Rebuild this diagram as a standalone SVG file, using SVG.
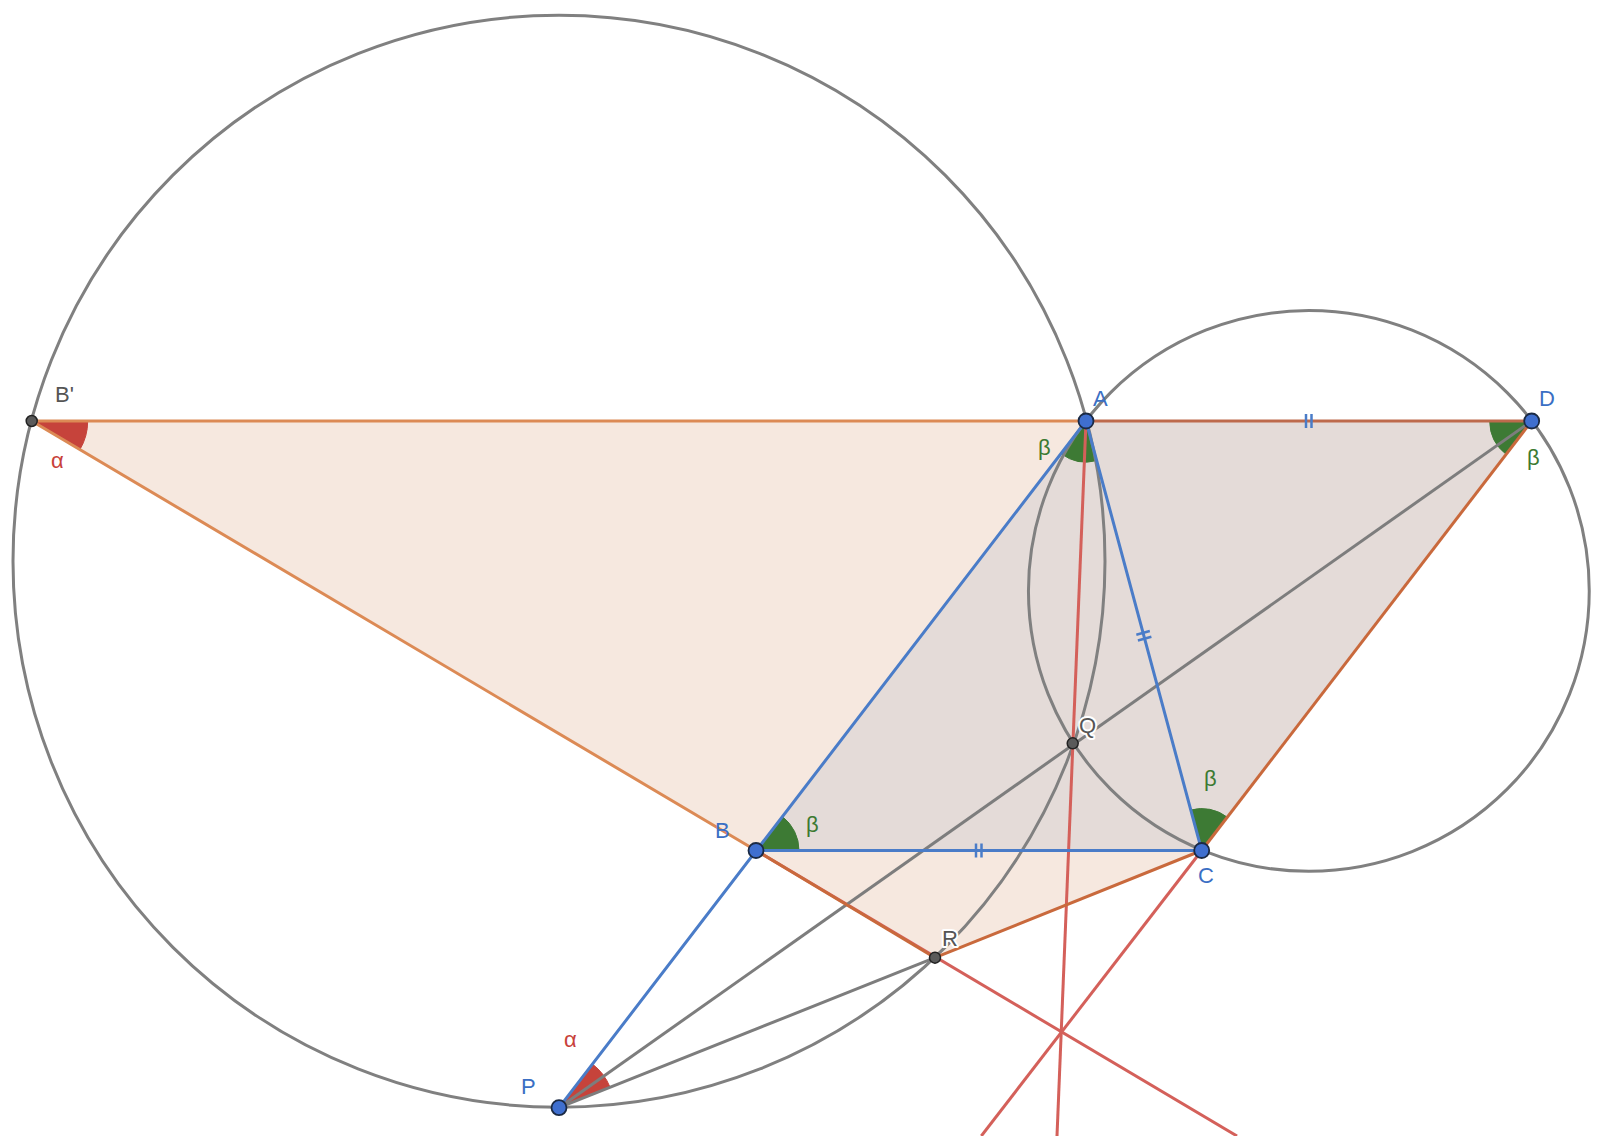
<svg xmlns="http://www.w3.org/2000/svg" width="1600" height="1136" viewBox="0 0 1600 1136">
<style>
.circ{fill:none;stroke:#808080;stroke-width:3}
.gray{stroke:#7d7d7d;stroke-width:3;fill:none}
.blue{stroke:#4a7cc8;stroke-width:3;fill:none;stroke-linecap:round}
.red{stroke:#d4605a;stroke-width:3;fill:none}
.org{stroke:#dc8a55;stroke-width:3;fill:none}
.dorg{stroke:#c9693c;stroke-width:3;fill:none}
.tick{stroke:#4a7cc8;stroke-width:2.5;fill:none}
.gsec{fill:#3d7a34;stroke:#3d7a34;stroke-width:1}
.rsec{fill:#c6433b;stroke:#c6433b;stroke-width:1}
.bpt{fill:#3f6fcf;stroke:#1b2a44;stroke-width:1.8}
.gpt{fill:#5a5a5a;stroke:#222;stroke-width:1.5}
text{font-family:"Liberation Sans",Arial,sans-serif;font-size:22px}
.lb{fill:#3b6fc4}
.lg{fill:#555}
.halo{paint-order:stroke;stroke:#fff;stroke-width:4;stroke-linejoin:round}
.beta{fill:#3c7a32}
.alpha{fill:#c8413a}
</style>
<rect width="1600" height="1136" fill="#fff"/>
<g id="fills">
<polygon points="31.7,421 1531.7,421 1201.7,850.5 935,957.7" fill="#f6e8df"/>
<polygon points="1086,421 1531.7,421 1201.7,850.5 756,850.5" fill="#e4dbd8"/>
</g>
<g id="angles">
<path class="rsec" d="M31.7,421 L87.7,421 A56,56 0 0 1 79.9,449.6 Z"/>
<path class="rsec" d="M559,1107.7 L592.5,1064.1 A55,55 0 0 1 610.1,1087.3 Z"/>
<path class="gsec" d="M1086,421 L1096.7,460.6 A41,41 0 0 1 1061,453.5 Z"/>
<path class="gsec" d="M1531.7,421 L1506.1,454.3 A42,42 0 0 1 1489.7,421 Z"/>
<path class="gsec" d="M756,850.5 L782.2,816.4 A43,43 0 0 1 799,850.5 Z"/>
<path class="gsec" d="M1201.7,850.5 L1190.8,810 A42,42 0 0 1 1227.3,817.2 Z"/>
</g>
<g id="connectors">
<circle class="circ" cx="559" cy="561.25" r="546"/>
<circle class="circ" cx="1308.85" cy="590.9" r="280.4"/>
<line class="red" x1="1086" y1="421" x2="1057" y2="1136"/>
<line class="red" x1="1201.7" y1="850.5" x2="981.3" y2="1136"/>
<line class="red" x1="756" y1="850.5" x2="1237" y2="1136"/>
<line class="gray" x1="559" y1="1107.7" x2="1531.7" y2="421"/>
<line class="gray" x1="559" y1="1107.7" x2="935" y2="957.7"/>
<line class="org" x1="31.7" y1="421" x2="1086" y2="421"/>
<line stroke="#bd6a4c" stroke-width="3" x1="1086" y1="421" x2="1531.7" y2="421"/>
<line class="dorg" x1="1531.7" y1="421" x2="1201.7" y2="850.5"/>
<line class="dorg" x1="1201.7" y1="850.5" x2="935" y2="957.7"/>
<line class="org" x1="31.7" y1="421" x2="756" y2="850.5"/>
<line class="dorg" x1="756" y1="850.5" x2="935" y2="957.7"/>
<line class="blue" x1="1086" y1="421" x2="559" y2="1107.7"/>
<line class="blue" x1="756" y1="850.5" x2="1201.7" y2="850.5"/>
<line class="blue" x1="1086" y1="421" x2="1201.7" y2="850.5"/>
<line class="tick" x1="1306" y1="414" x2="1306" y2="428"/>
<line class="tick" x1="1311.5" y1="414" x2="1311.5" y2="428"/>
<line class="tick" x1="976" y1="843.5" x2="976" y2="857.5"/>
<line class="tick" x1="981.5" y1="843.5" x2="981.5" y2="857.5"/>
<line class="tick" x1="1136.3" y1="634.7" x2="1149.8" y2="631"/>
<line class="tick" x1="1137.9" y1="640.5" x2="1151.4" y2="636.8"/>
</g>
<g id="labels-angles">
<text class="alpha" x="51" y="468">α</text>
<text class="alpha" x="564" y="1046.7">α</text>
<text class="beta" x="1038" y="455">β</text>
<text class="beta" x="1527" y="465">β</text>
<text class="beta" x="806" y="832">β</text>
<text class="beta" x="1204" y="786">β</text>
</g>
<g id="node-Bp"><circle class="gpt" cx="31.7" cy="421" r="5.5"/><text class="lg" x="55" y="402">B'</text></g>
<g id="node-A"><circle class="bpt" cx="1086" cy="421" r="7.5"/><text class="lb" x="1093" y="406">A</text></g>
<g id="node-D"><circle class="bpt" cx="1531.7" cy="421" r="7.5"/><text class="lb" x="1539" y="406">D</text></g>
<g id="node-B"><circle class="bpt" cx="756" cy="850.5" r="7.5"/><text class="lb" x="715" y="838">B</text></g>
<g id="node-C"><circle class="bpt" cx="1201.7" cy="850.5" r="7.5"/><text class="lb" x="1198" y="883">C</text></g>
<g id="node-P"><circle class="bpt" cx="559" cy="1107.7" r="7.5"/><text class="lb" x="521" y="1094">P</text></g>
<g id="node-Q"><circle class="gpt" cx="1072.7" cy="743.3" r="5.5"/><text class="lg halo" x="1079" y="733">Q</text></g>
<g id="node-R"><circle class="gpt" cx="935" cy="957.7" r="5.5"/><text class="lg halo" x="942" y="946">R</text></g>
</svg>
